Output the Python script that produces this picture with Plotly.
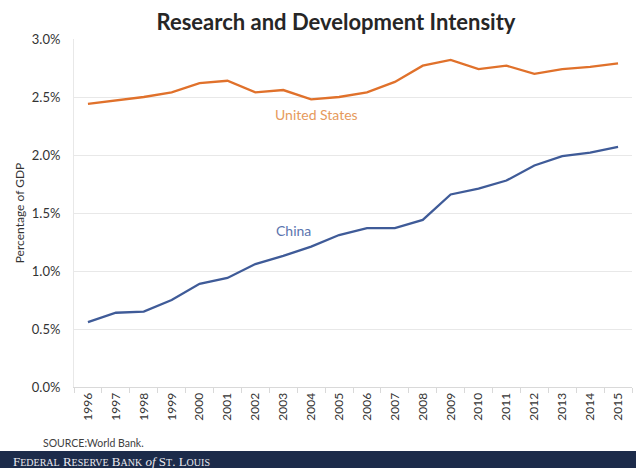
import plotly.graph_objects as go

years = [str(y) for y in range(1996, 2016)]
us_values = [2.44, 2.47, 2.50, 2.54, 2.62, 2.64, 2.54, 2.56, 2.48, 2.50,
             2.54, 2.63, 2.77, 2.82, 2.74, 2.77, 2.70, 2.74, 2.76, 2.79]
china_values = [0.56, 0.64, 0.65, 0.75, 0.89, 0.94, 1.06, 1.13, 1.21, 1.31,
                1.37, 1.37, 1.44, 1.66, 1.71, 1.78, 1.91, 1.99, 2.02, 2.07]
y_ticks = [0, 0.005, 0.01, 0.015, 0.02, 0.025, 0.03]

us_color = "#E0712B"
china_color = "#3F5B98"
font_family = "Lato, 'Open Sans', sans-serif"

fig = go.Figure()
fig.add_trace(go.Scatter(x=years, y=[v / 100 for v in us_values], mode="lines",
                         line=dict(color=us_color, width=2.3), name="United States"))
fig.add_trace(go.Scatter(x=years, y=[v / 100 for v in china_values], mode="lines",
                         line=dict(color=china_color, width=2.3), name="China"))

L, R, T, B = 74, 4, 39, 81
W, H = 636, 468
pw, ph = W - L - R, H - T - B

def py(ypix):
    return (H - B - ypix) / ph

def px(xpix):
    return (xpix - L) / pw

fig.update_layout(
    width=W, height=H,
    margin=dict(l=L, r=R, t=T, b=B),
    paper_bgcolor="white", plot_bgcolor="white",
    showlegend=False,
    font=dict(family=font_family, color="#595959"),
    title=dict(text="<b>Research and Development Intensity</b>",
               x=336 / W, xanchor="center", y=1 - 22 / H, yanchor="middle",
               font=dict(size=22, color="#262626", family=font_family)),
    xaxis=dict(type="category", tickangle=-90, tickfont=dict(size=12, color="#333333"),
               showgrid=False, showline=True, linecolor="#D9D9D9", linewidth=1,
               ticks="outside", tickson="boundaries", ticklen=5, tickcolor="#D9D9D9",
               zeroline=False, range=[-0.5, len(years) - 0.5]),
    yaxis=dict(range=[0, 0.03], tickvals=y_ticks, tickformat=".1%",
               tickfont=dict(size=13, color="#333333"),
               showgrid=True, gridcolor="#E8E8E8", gridwidth=1,
               showline=True, linecolor="#E8E8E8", zeroline=False,
               ticks="", ticklabelstandoff=10,
               title=dict(text="Percentage of GDP", font=dict(size=12, color="#333333"),
                          standoff=4)),
)

fig.add_annotation(xref="paper", yref="paper", x=px(316), y=py(114),
                   xanchor="center", yanchor="middle",
                   text="United States", showarrow=False,
                   font=dict(size=14, color="#E69A5C", family=font_family))
fig.add_annotation(xref="paper", yref="paper", x=px(293), y=py(230),
                   xanchor="center", yanchor="middle",
                   text="China", showarrow=False,
                   font=dict(size=14, color="#5B74AE", family=font_family))

fig.add_annotation(xref="paper", yref="paper", x=px(41), y=py(443), xanchor="left",
                   yanchor="middle", text="SOURCE:World Bank.", showarrow=False,
                   font=dict(size=10.5, color="#404040", family=font_family))

fig.add_shape(type="rect", xref="paper", yref="paper",
              x0=px(0), x1=px(W), y0=py(451), y1=py(H + 2),
              fillcolor="#1C2B4A", line=dict(width=0), layer="above")

footer = ("F<span style='font-size:10px'>EDERAL</span> R<span style='font-size:10px'>ESERVE</span> "
          "B<span style='font-size:10px'>ANK</span> <i>of</i> S<span style='font-size:10px'>T</span>. "
          "L<span style='font-size:10px'>OUIS</span>")
fig.add_annotation(xref="paper", yref="paper", x=px(11), y=py(461), xanchor="left",
                   yanchor="middle", text=footer, showarrow=False,
                   font=dict(size=13, color="#E8E8EE", family="'Liberation Serif', serif"))

fig.write_html("out.html", config={"displayModeBar": False},
               post_script="document.body.style.margin='0px';")
